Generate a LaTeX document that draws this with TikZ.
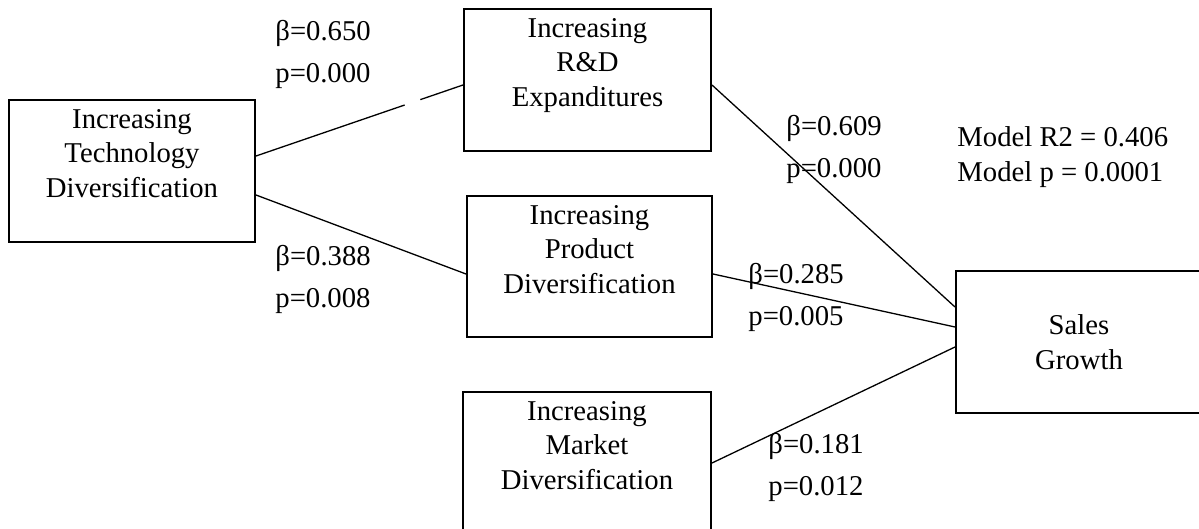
\documentclass[tikz,border=0pt]{standalone}
\usepackage{fontspec}
\setmainfont{Liberation Serif}
\usetikzlibrary{calc}
\usetikzlibrary{positioning}

\tikzset{
  varbox/.style={draw, line width=1pt, minimum width=123pt, minimum height=71pt, inner sep=0pt,
    align=center, font=\fontsize{14.35}{17.25}\selectfont},
  boxtext/.style={align=center, inner sep=0pt, anchor=north, font=\fontsize{14.35}{17.25}\selectfont},
  stat/.style={anchor=west, align=left, inner sep=0pt, font=\fontsize{14.35}{21}\selectfont},
  link/.style={line width=0.65pt}
}

\begin{document}
\begin{tikzpicture}[x=0.5pt,y=-0.5pt]
  \useasboundingbox (0,0) rectangle (1199,529);
  \clip (0,0) rectangle (1199,529);
  % boxes
  \node[varbox] (tech) at (132,171) {};
  \node[boxtext, below=5pt of tech.north] (techtxt) {Increasing\\Technology\\Diversification};
  \node[varbox, minimum width=123.5pt] (rd) at (587.5,80) {};
  \node[boxtext, below=5pt of rd.north] (rdtxt) {Increasing\\R\&D\\Expanditures};
  \node[varbox, minimum width=122.5pt, minimum height=70.5pt] (prod) at (589.5,266.5) {};
  \node[boxtext, below=5pt of prod.north] (prodtxt) {Increasing\\Product\\Diversification};
  \node[varbox, minimum width=124pt] (mkt) at (587,463) {};
  \node[boxtext, below=5pt of mkt.north] (mkttxt) {Increasing\\Market\\Diversification};
  \node[varbox] (sales) at (1079,342) {Sales\\Growth};
  % connectors
  \coordinate (t1) at ([yshift=7.5pt]tech.east);
  \coordinate (t2) at ([yshift=-12pt]tech.east);
  \coordinate (r1) at ([yshift=-2.5pt]rd.west);
  \coordinate (r2) at ([yshift=-2.5pt]rd.east);
  \coordinate (p1) at ([yshift=-3.75pt]prod.west);
  \coordinate (p2) at ([yshift=-3.75pt]prod.east);
  \coordinate (s1) at ([yshift=17.5pt]sales.west);
  \coordinate (s2) at ([yshift=7.5pt]sales.west);
  \coordinate (s3) at ([yshift=-2.5pt]sales.west);
  \draw[link] (t1) -- ($(t1)!0.718!(r1)$) ($(t1)!0.794!(r1)$) -- (r1);
  \draw[link] (t2) -- (p1);
  \draw[link] (r2) -- (s1);
  \draw[link] (p2) -- (s2);
  \draw[link] (mkt.east) -- (s3);
  % coefficients
  \foreach \x/\y/\b/\p [count=\i] in {275/54/0.650/0.000, 275/279/0.388/0.008,
      786/149/0.609/0.000, 748/297/0.285/0.005, 768/467/0.181/0.012}
    \node[stat] (stat\i) at (\x,\y) {β=\b\\p=\p};
  \node[stat, font=\fontsize{14.35}{17.25}\selectfont] (model) at (957,157) {Model R2 = 0.406\\Model p = 0.0001};
\end{tikzpicture}
\end{document}
